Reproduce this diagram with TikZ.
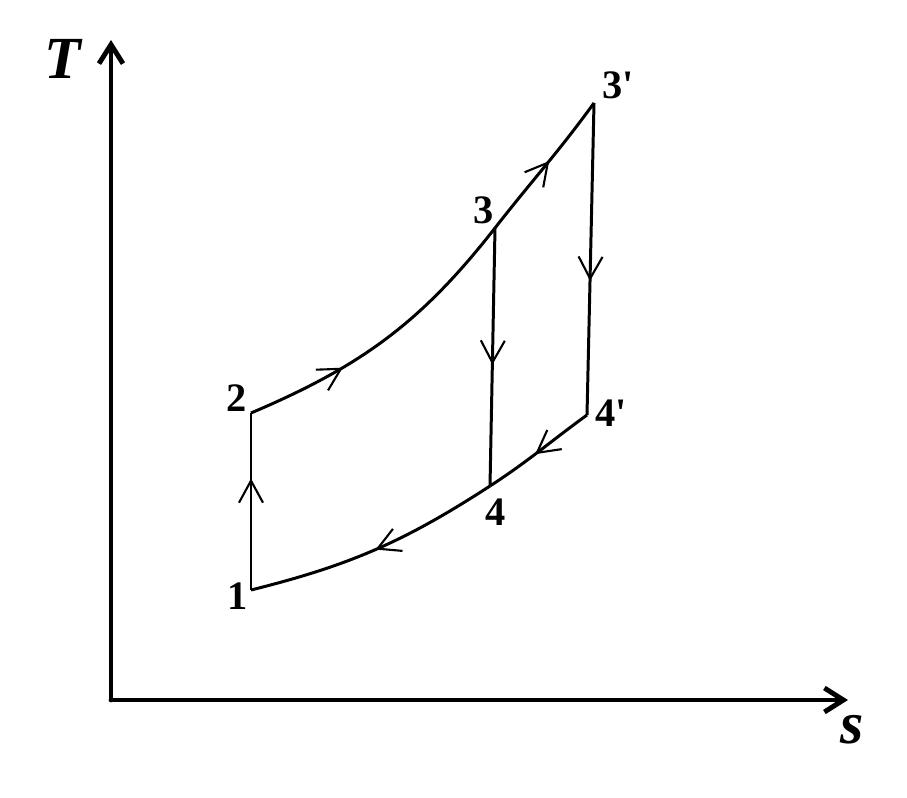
\documentclass[tikz,border=0pt]{standalone}
\usepackage{fontspec}
\setmainfont{Liberation Serif}
\usetikzlibrary{arrows.meta,decorations.markings}

\tikzset{
  axis/.style={line width=1.4pt, line cap=round, -{Straight Barb[length=1.9mm,width=2.4mm,line width=1.4pt]}},
  cycleline/.style={line width=0.85pt, line join=round},
  midarrow/.style={postaction={decorate,decoration={markings,
      mark=at position #1 with {\arrow{Straight Barb[length=2.2mm,width=2.4mm,line width=0.6pt]}}}}},
  statelabel/.style={font=\fontsize{11.5}{13}\selectfont\bfseries, inner sep=0pt},
  axislabel/.style={font=\fontsize{17}{19}\selectfont\bfseries\itshape, inner sep=0pt}
}

\begin{document}
\begin{tikzpicture}
      \useasboundingbox (-1.11,-0.97) rectangle (7.96,7.00);

      % AXES
      \coordinate (O) at (0,0);
      \coordinate (Tend) at (0,6.60);
      \coordinate (send) at (7.37,0);
      \draw[axis] (O) -- (Tend);
      \draw[axis] (O) -- (send);
      \node[axislabel] (Tlab) at (-0.48,6.41) {T};
      \node[axislabel] (slab) at (7.41,-0.30) {s};

      % STATES
      % 1
      \path (1.40,1.10) coordinate (p1)
      +(-0.13,-0.06) node[statelabel] (l1) {1}
      ;

      % 2
      \path (1.40,2.87) coordinate (p2)
      +(-0.14,0.15) node[statelabel] (l2) {2}
      ;

      % 3
      \path (3.84,4.72) coordinate (p3)
      +(-0.11,0.18) node[statelabel] (l3) {3}
      ;

      % 3'
      \path (4.83,5.97) coordinate (p3s)
      +(0.24,0.18) node[statelabel] (l3s) {3\textquotesingle}
      ;

      % 4
      \path (3.79,2.14) coordinate (p4)
      +(0.06,-0.26) node[statelabel] (l4) {4}
      ;

      % 4'
      \path (4.76,2.85) coordinate (p4s)
      +(0.24,0.02) node[statelabel] (l4s) {4\textquotesingle}
      ;

      % PROCESSES
      \draw[cycleline, midarrow=0.63] (p1) -- (p2);
      \draw[cycleline, midarrow=0.33] (p2) to[out=23,in=232] (p3);
      \draw[cycleline, midarrow=0.54] (p3) to[out=52,in=234] (p3s);
      \draw[cycleline, midarrow=0.53] (p3) -- (p4);
      \draw[cycleline, midarrow=0.57] (p3s) -- (p4s);
      \draw[cycleline, midarrow=0.54] (p4s) to[out=216,in=33] (p4);
      \draw[cycleline, midarrow=0.50] (p4) to[out=213,in=14] (p1);
\end{tikzpicture}
\end{document}
